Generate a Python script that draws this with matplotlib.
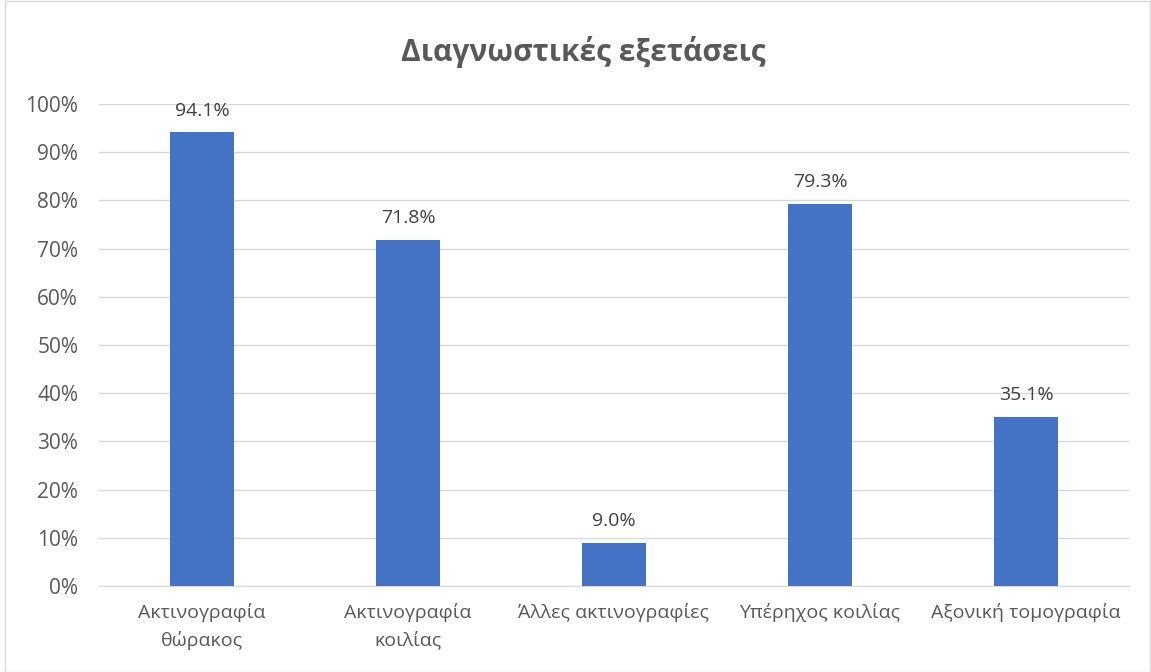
import matplotlib
matplotlib.use("Agg")
import matplotlib.pyplot as plt
from matplotlib.patches import Rectangle

plt.rcParams['font.family'] = ['Open Sans', 'DejaVu Sans']

categories = ["Ακτινογραφία\nθώρακος", "Ακτινογραφία\nκοιλίας", "Άλλες ακτινογραφίες",
              "Υπέρηχος κοιλίας", "Αξονική τομογραφία"]
values = [94.1, 71.8, 9.0, 79.3, 35.1]
yticks = [0, 10, 20, 30, 40, 50, 60, 70, 80, 90, 100]
title = "Διαγνωστικές εξετάσεις"

W, H = 1151, 672
fig = plt.figure(figsize=(W / 100, H / 100), dpi=100)
fig.patches.append(Rectangle((5 / W, 0.5 / H), 1 - 6 / W, 1 - 1.5 / H,
                             transform=fig.transFigure, fill=False,
                             edgecolor="#d9d9d9", linewidth=1))

left, right, bottom, top = 99, 1129, 586, 104
ax = fig.add_axes([left / W, 1 - bottom / H, (right - left) / W, (bottom - top) / H])

x = range(len(categories))
ax.bar(x, values, width=0.31, color="#4472C4", zorder=3)
for xi, v in zip(x, values):
    ax.annotate(f"{v:.1f}%", (xi, v), xytext=(0, 9), textcoords="offset points",
                ha="center", va="bottom", fontsize=14, color="#404040")

ax.set_xlim(-0.5, len(categories) - 0.5)
ax.set_ylim(0, 100)
ax.set_yticks(yticks)
ax.set_yticklabels([f"{t}%" for t in yticks])
ax.set_xticks(list(x))
ax.set_xticklabels(categories, linespacing=1.6)
ax.yaxis.grid(True, color="#d9d9d9", linewidth=1, zorder=0)
ax.tick_params(axis="both", length=0, labelsize=14, colors="#595959")
ax.tick_params(axis="y", labelsize=15, pad=15)
ax.tick_params(axis="x", pad=12)
for s in ["top", "right", "left"]:
    ax.spines[s].set_visible(False)
ax.spines["bottom"].set_color("#d9d9d9")
ax.set_facecolor("none")

fig.text(583 / W, 1 - 52 / H, title, ha="center", va="center",
         fontsize=21.5, fontweight="bold", color="#595959")

fig.savefig("out.png", dpi=100)
